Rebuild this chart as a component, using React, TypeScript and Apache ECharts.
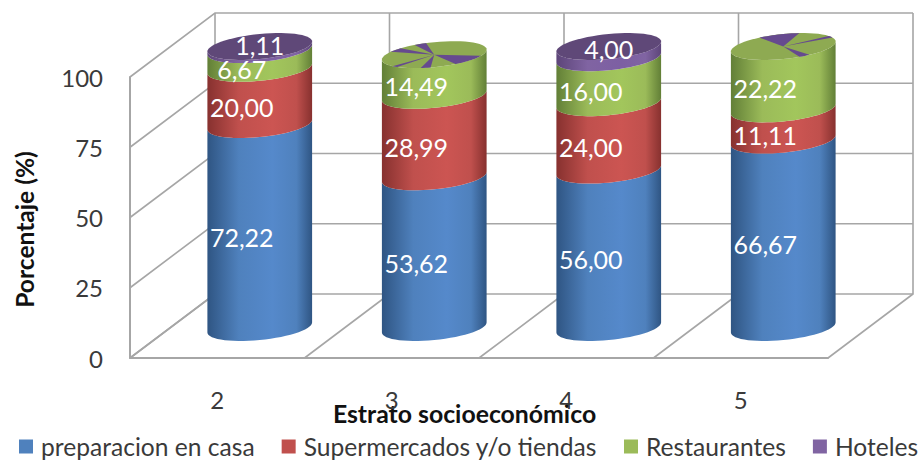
import React, { useEffect, useRef } from "react";
import * as echarts from "echarts";

const strata = ["2", "3", "4", "5"];
const yTicks = [0, 25, 50, 75, 100];
const preparacion = [72.22, 53.62, 56.0, 66.67];
const supermercados = [20.0, 28.99, 24.0, 11.11];
const restaurantes = [6.67, 14.49, 16.0, 22.22];
const hoteles = [1.11, 0, 4.0, 0];

// Slivers of the hotel colour that show through a lid when its share is zero,
// as start and end angles around the lid, per stratum.
const lidSlivers: number[][][] = [
  [],
  [[-112, -99], [-146, -130], [135, 143], [94, 105], [27, 66]],
  [],
  [[-117, -72], [-30, -20], [60, 72]],
];

const FONT = "Lato";
const GRID = "#a6a6a6";

// Depth of the box that surrounds the columns, in pixels.
const DEPTH_X = 85;
const DEPTH_Y = -64;
// Cylinders stand half way into the box.
const CYL_X = 42.5;
const CYL_Y = -30.5;
const RADIUS_SHARE = 0.3;
const ELLIPSE_B = 12.5;
const ELLIPSE_TILT = 5;

const palette = [
  { name: "preparacion en casa", flat: "#4f81bd", edge: "#2f5583", light: "#5589cb", lid: "#4f81bd", values: preparacion, labelDx: -18, labelDy: 10.5 },
  { name: "Supermercados y/o tiendas", flat: "#c0504d", edge: "#87312f", light: "#cc5552", lid: "#c0504d", values: supermercados, labelDx: -18, labelDy: 10.5 },
  { name: "Restaurantes", flat: "#9bbb59", edge: "#627f37", light: "#a2c65c", lid: "#8eaa52", values: restaurantes, labelDx: -18, labelDy: 10.5 },
  { name: "Hoteles", flat: "#8064a2", edge: "#5d4579", light: "#7d5fa3", lid: "#5f4878", values: hoteles, labelDx: 0, labelDy: -3 },
];

const ellipsePoint = (cx: number, cy: number, a: number, deg: number) => {
  const t = (deg * Math.PI) / 180;
  return [cx + a * Math.cos(t), cy + ELLIPSE_B * Math.sin(t) - ELLIPSE_TILT * Math.cos(t)];
};

const frontArc = (cx: number, cy: number, a: number, reverse: boolean) => {
  const pts: number[][] = [];
  for (let d = 0; d <= 180; d += 6) pts.push(ellipsePoint(cx, cy, a, reverse ? d : 180 - d));
  return pts;
};

const formatValue = (v: number) => v.toFixed(2).replace(".", ",");

const columnAnchor = (api: any, index: number, value: number) => {
  const p = api.coord([index, value]);
  return [p[0] + CYL_X, p[1] + CYL_Y];
};

const segmentRenderer = (seriesIndex: number) => (_: any, api: any) => {
  const s = palette[seriesIndex];
  const idx = api.value(0);
  const base = api.value(1);
  const value = api.value(2);
  if (value <= 0) return { type: "group", children: [] };
  const a = api.size([1, 0])[0] * RADIUS_SHARE;
  const [cx, y0] = columnAnchor(api, idx, base);
  const [, y1] = columnAnchor(api, idx, base + value);
  const [, ym] = columnAnchor(api, idx, base + value / 2);
  const points = [...frontArc(cx, y0, a, false), ...frontArc(cx, y1, a, true)];
  return {
    type: "group",
    children: [
      {
        type: "polygon",
        shape: { points },
        style: {
          fill: {
            type: "linear", x: 0, y: 0, x2: 1, y2: 0,
            colorStops: [
              { offset: 0, color: s.edge },
              { offset: 0.3, color: s.flat },
              { offset: 0.62, color: s.light },
              { offset: 0.85, color: s.flat },
              { offset: 1, color: s.edge },
            ],
          },
        },
      },
      {
        type: "text",
        z2: 100,
        style: {
          text: formatValue(value),
          x: cx + s.labelDx,
          y: ym + s.labelDy,
          fill: "#ffffff",
          font: `25px ${FONT}`,
          textAlign: "center",
          textVerticalAlign: "middle",
        },
      },
    ],
  };
};

const lidRenderer = (_: any, api: any) => {
  const idx = api.value(0);
  const total = api.value(1);
  const topShare = api.value(2);
  const a = api.size([1, 0])[0] * RADIUS_SHARE;
  const [cx, cy] = columnAnchor(api, idx, total);
  const rim: number[][] = [];
  for (let d = 0; d < 360; d += 6) rim.push(ellipsePoint(cx, cy, a, d));
  const color = topShare > 0 ? palette[3].lid : palette[2].lid;
  const children: any[] = [{ type: "polygon", z2: 10, shape: { points: rim }, style: { fill: color } }];
  for (const [from, to] of lidSlivers[idx]) {
    const pts: number[][] = [[cx, cy]];
    for (let d = from; d <= to; d += 3) pts.push(ellipsePoint(cx, cy, a, d));
    pts.push(ellipsePoint(cx, cy, a, to));
    children.push({ type: "polygon", z2: 11, shape: { points: pts }, style: { fill: "#664a8f" } });
  }
  return { type: "group", children };
};

// Side wall and back wall rules, one per value tick.
const tickRuleRenderer = (_: any, api: any) => {
  const band = api.size([1, 0])[0];
  const v = api.value(0);
  const start = api.coord([0, v]);
  const end = api.coord([strata.length - 1, v]);
  const x0 = start[0] - band / 2;
  const x1 = end[0] + band / 2;
  return {
    type: "polyline",
    shape: { points: [[x0, start[1]], [x0 + DEPTH_X, start[1] + DEPTH_Y], [x1 + DEPTH_X, start[1] + DEPTH_Y]] },
    style: { stroke: GRID, lineWidth: 1.6, fill: "none" },
  };
};

// Floor and back wall rules, one per category boundary.
const boundaryRuleRenderer = (_: any, api: any) => {
  const band = api.size([1, 0])[0];
  const i = api.value(0);
  const bottom = api.coord([0, 0]);
  const top = api.coord([0, 100]);
  const x = bottom[0] - band / 2 + i * band;
  return {
    type: "polyline",
    shape: { points: [[x, bottom[1]], [x + DEPTH_X, bottom[1] + DEPTH_Y], [x + DEPTH_X, top[1] + DEPTH_Y]] },
    style: { stroke: GRID, lineWidth: 1.6, fill: "none" },
  };
};

export default function App() {
  const ref = useRef<HTMLDivElement>(null);

  useEffect(() => {
    const chart = echarts.init(ref.current!, undefined, { renderer: "svg" });

    const bases = strata.map(() => 0);
    const segmentSeries = palette.map((s, si) => {
      const data = s.values.map((v, i) => {
        const row = [i, bases[i], v];
        bases[i] += v;
        return row;
      });
      return {
        type: "custom",
        name: s.name,
        renderItem: segmentRenderer(si),
        encode: { x: 0, y: 1 },
        itemStyle: { color: s.flat },
        data,
        z: 3,
      };
    });

    chart.setOption({
      animation: false,
      color: palette.map((s) => s.flat),
      grid: { left: 130, right: 93, top: 77, bottom: 102 },
      legend: {
        left: 19,
        top: 434,
        width: 902,
        padding: 0,
        itemGap: 27,
        itemWidth: 14,
        itemHeight: 14,
        selectedMode: false,
        icon: "rect",
        data: palette.map((s) => s.name),
        textStyle: { fontFamily: FONT, fontSize: 24.6, lineHeight: 20, color: "#3a3a3a", padding: [0, 0, 0, 3] },
      },
      xAxis: {
        type: "category",
        data: strata,
        axisLine: { show: true, lineStyle: { color: GRID, width: 2 } },
        axisTick: { show: false },
        axisLabel: { fontFamily: FONT, fontSize: 24, color: "#3a3a3a", margin: 29 },
        name: "Estrato socioeconómico",
        nameLocation: "middle",
        nameGap: 43,
        nameMoveOverlap: false,
        nameTextStyle: { fontFamily: FONT, fontSize: 24.8, fontWeight: "bold", color: "#111111", padding: [0, 29, 0, 0] },
      },
      yAxis: {
        type: "value",
        min: 0,
        max: 100,
        interval: 25,
        axisLine: { show: true, lineStyle: { color: GRID, width: 2 } },
        axisTick: { show: false },
        splitLine: { show: false },
        axisLabel: { fontFamily: FONT, fontSize: 24, color: "#3a3a3a", margin: 27 },
        name: "Porcentaje (%)",
        nameLocation: "middle",
        nameGap: 93,
        nameMoveOverlap: false,
        nameTextStyle: { fontFamily: FONT, fontSize: 24.6, fontWeight: "bold", color: "#111111", padding: [0, 24, 0, 0] },
      },
      series: [
        { type: "custom", renderItem: tickRuleRenderer, encode: { y: 0 }, data: yTicks.map((v) => [v]), z: 1, silent: true },
        { type: "custom", renderItem: boundaryRuleRenderer, data: [0, 1, 2, 3, 4].map((i) => [i]), encode: { x: 0 }, z: 1, silent: true },
        ...segmentSeries,
        {
          type: "custom",
          renderItem: lidRenderer,
          encode: { x: 0, y: 1 },
          data: strata.map((_, i) => [i, bases[i], hoteles[i]]),
          z: 3,
          silent: true,
        },
      ],
    });

    return () => chart.dispose();
  }, []);

  return <div ref={ref} style={{ position: "absolute", left: 0, top: 0, width: 921, height: 460 }} />;
}
